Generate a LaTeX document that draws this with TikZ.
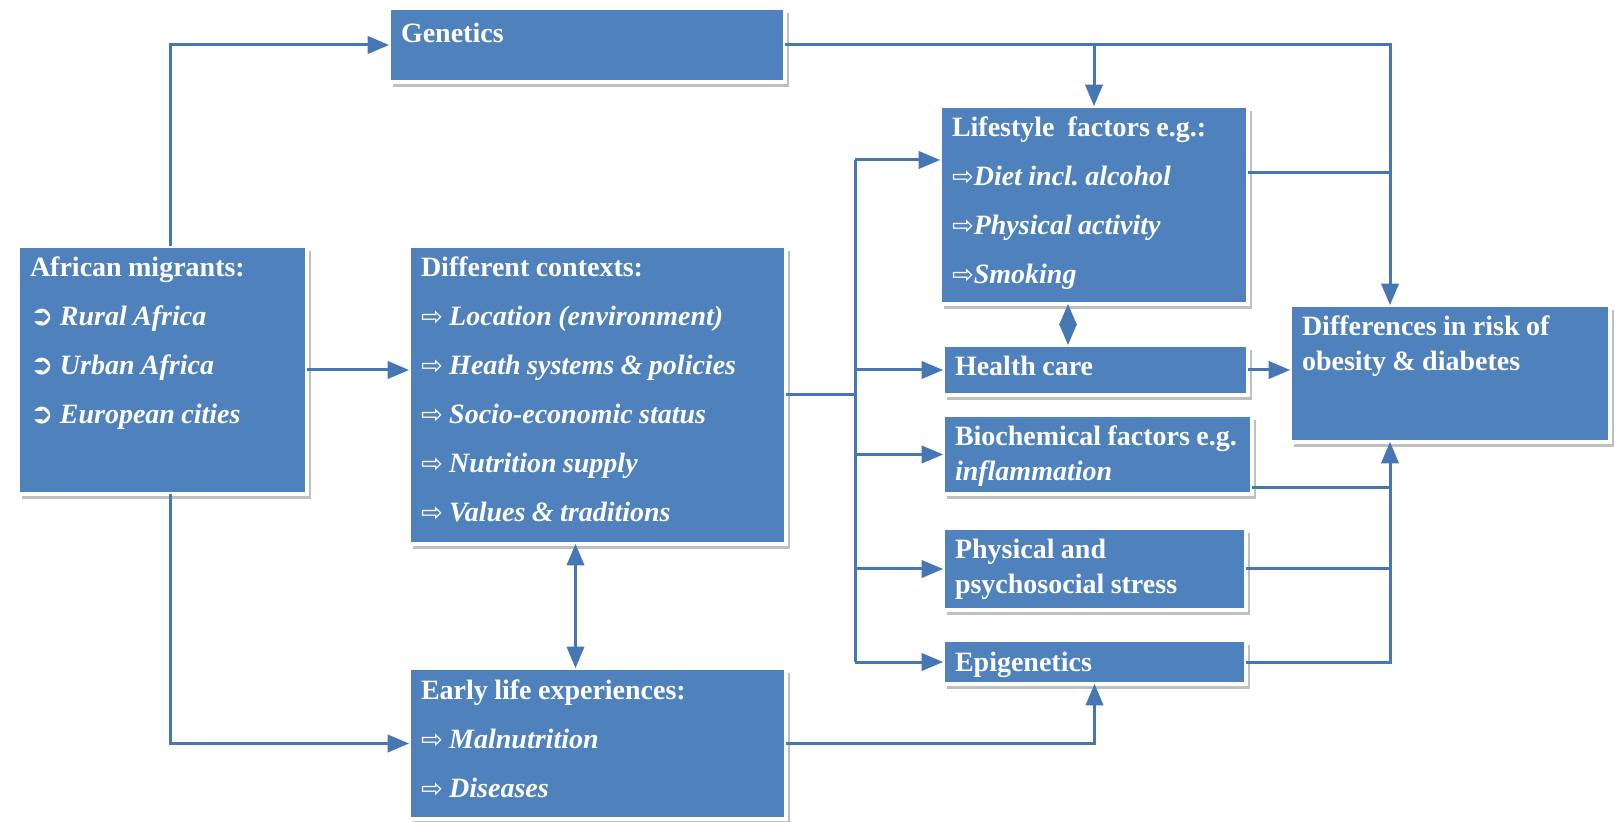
\documentclass[tikz,border=0pt]{standalone}
\usepackage{fontspec}
\setmainfont{Liberation Serif}
\newfontfamily\symfont{DejaVu Sans}
\usetikzlibrary{arrows}
\usetikzlibrary{shadows}
\definecolor{boxblue}{RGB}{79,129,189}
\definecolor{linkblue}{RGB}{70,119,180}
\newcommand{\harr}{{\symfont\mdseries\upshape\fontsize{13}{13}\selectfont ⇨}}
\newcommand{\carr}{{\symfont\bfseries\upshape\fontsize{14}{14}\selectfont ➲}}
\frenchspacing
\tikzset{
 box/.style={fill=boxblue, draw=white, line width=2pt, text=white, align=left, anchor=north west,
  inner xsep=6pt, inner ysep=5.5pt, outer sep=0pt, text height=10pt,
  font=\fontsize{14}{24.5}\selectfont\bfseries,
  execute at begin node={\spaceskip=.23em plus .1em\relax},
  drop shadow={shadow xshift=2pt, shadow yshift=-2.5pt, fill=black, opacity=.25}},
 twoline/.style={font=\fontsize{14}{17.5}\selectfont\bfseries},
 line/.style={draw=linkblue, line width=1.5pt},
 arr/.style={line, ->, >=triangle 45},
 arrs/.style={line, <->, >=triangle 45}
}

\begin{document}
\begin{tikzpicture}[x=0.5pt, y=-0.5pt]
\useasboundingbox (0,0) rectangle (1615,822);

\node[box, text height=12pt, text depth=14pt, text width=186pt] (gen) at (389,8) {Genetics};
\node[box, text width=132.5pt, text depth=103pt] (afr) at (18,246) {African migrants:\\
 \carr\ \textit{Rural Africa}\\
 \carr\ \textit{Urban Africa}\\
 \carr\ \textit{European cities}};
\node[box, text width=176.5pt, text depth=128pt] (ctx) at (409,246) {Different contexts:\\
 \harr\ \textit{Location (environment)}\\
 \harr\ \textit{Heath systems \& policies}\\
 \harr\ \textit{Socio-economic status}\\
 \harr\ \textit{Nutrition supply}\\
 \harr\ \textit{Values \& traditions}};
\node[box, text width=176.5pt, text depth=54.5pt] (early) at (409,668) {Early life experiences:\\
 \harr\ \textit{Malnutrition}\\
 \harr\ \textit{Diseases}};
\node[box, text width=142pt, text depth=78pt] (life) at (940,106) {Lifestyle\ \ factors e.g.:\\
 \harr\textit{Diet incl. alcohol}\\
 \harr\textit{Physical activity}\\
 \harr\textit{Smoking}};
\node[box, text width=140.5pt, text depth=4pt] (health) at (943,345) {Health care};
\node[box, twoline, text width=142.5pt, text depth=18.5pt] (bio) at (943,415) {\mbox{Biochemical factors e.g.}\\
 \textit{inflammation}};
\node[box, twoline, text width=139.5pt, text depth=20pt] (stress) at (943,528) {Physical and\\
 psychosocial stress};
\node[box, text width=139.5pt, text depth=1pt] (epi) at (943,640) {Epigenetics};
\node[box, twoline, text width=148pt, text depth=47.5pt] (diff) at (1290,305) {Differences in risk of\\
 obesity \& diabetes};

\coordinate (bus) at (855,160);
\coordinate (rbus) at ([xshift=-30pt]diff.north);
\coordinate (lh) at ([xshift=-13pt]life.south);
\coordinate (lr) at ([yshift=-33.5pt]life.north east);
\coordinate (br) at ([yshift=3pt]bio.south east);

\draw[arr] ([xshift=4pt]afr.north) |- (gen.west);
\draw[arr] (afr.east) -- (afr.east -| ctx.west);
\draw[arr] ([xshift=4pt]afr.south) |- (early.west);
\draw[arrs] ([xshift=-11pt]ctx.south) -- ([xshift=-11pt]early.north);

\draw[line] (ctx.east) -- (ctx.east -| bus);
\draw[line] (bus) -- (bus |- epi.west);
\draw[arr] (bus) -- (bus -| life.west);
\foreach \n in {health,bio,stress,epi}
 \draw[arr] (bus |- \n.west) -- (\n.west);

\draw[arr] (gen.east) -| (rbus);
\draw[arr] (gen.east -| life.north) -- (life.north);
\draw[arrs] (lh) -- (lh |- health.north);
\draw[arr] (early.east) -| (epi.south);

\draw[line] (lr) -- (lr -| rbus);
\draw[arr] (health.east) -- (health.east -| diff.west);
\draw[line] (br) -- (br -| rbus);
\draw[line] (stress.east) -- (stress.east -| rbus);
\draw[arr] (epi.east) -| (rbus |- diff.south);
\end{tikzpicture}
\end{document}
